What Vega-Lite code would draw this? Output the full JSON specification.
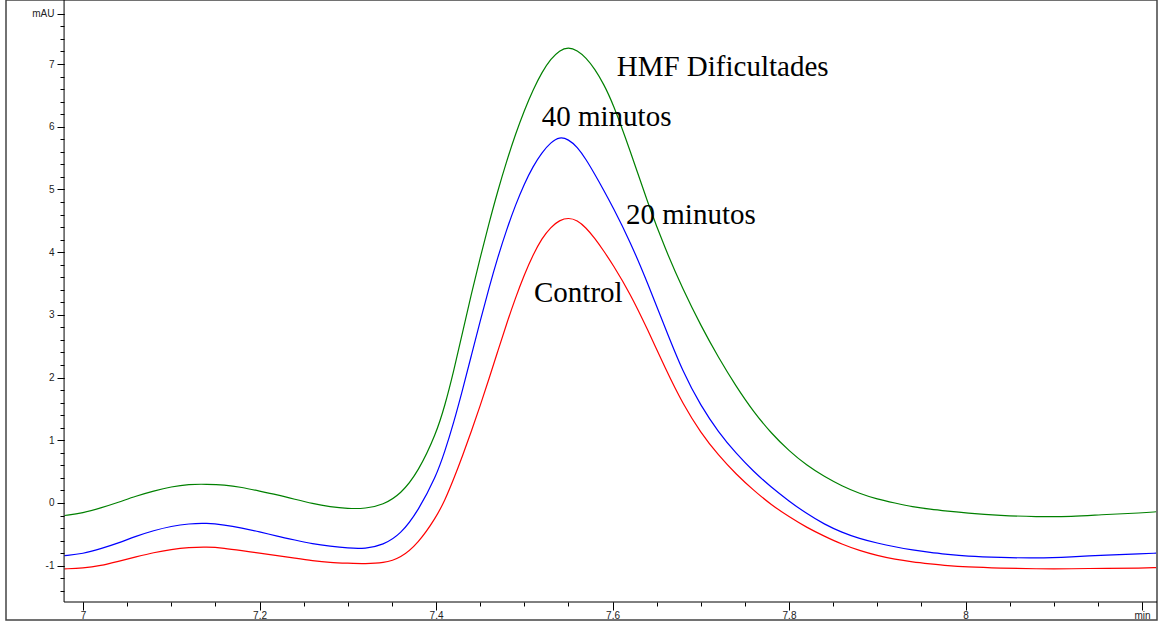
{
  "$schema": "https://vega.github.io/schema/vega-lite/v6.json",
  "width": 1151,
  "height": 620,
  "autosize": {"type": "none"},
  "padding": {"left": 6, "top": 0, "right": 3, "bottom": 2},
  "background": "white",
  "config": {
    "view": {"stroke": "#444", "strokeWidth": 1.5},
    "axis": {"labelFont": "Liberation Sans", "labelFontSize": 10, "labelColor": "#222", "tickColor": "#000", "tickWidth": 1, "domain": false, "grid": false, "labelOverlap": false, "labelFlush": false, "title": null}
  },
  "datasets": {
    "trazas": [
      {"t": 6.979, "hmf": -0.20, "m40": -0.84, "control": -1.05},
      {"t": 7.00, "hmf": -0.16, "m40": -0.81, "control": -1.04},
      {"t": 7.02, "hmf": -0.08, "m40": -0.73, "control": -1.00},
      {"t": 7.04, "hmf": 0.01, "m40": -0.64, "control": -0.93},
      {"t": 7.06, "hmf": 0.11, "m40": -0.53, "control": -0.86},
      {"t": 7.08, "hmf": 0.19, "m40": -0.44, "control": -0.79},
      {"t": 7.10, "hmf": 0.26, "m40": -0.37, "control": -0.74},
      {"t": 7.12, "hmf": 0.30, "m40": -0.33, "control": -0.71},
      {"t": 7.14, "hmf": 0.30, "m40": -0.32, "control": -0.70},
      {"t": 7.16, "hmf": 0.29, "m40": -0.35, "control": -0.72},
      {"t": 7.18, "hmf": 0.25, "m40": -0.40, "control": -0.76},
      {"t": 7.20, "hmf": 0.19, "m40": -0.46, "control": -0.80},
      {"t": 7.22, "hmf": 0.13, "m40": -0.53, "control": -0.84},
      {"t": 7.24, "hmf": 0.06, "m40": -0.59, "control": -0.88},
      {"t": 7.26, "hmf": -0.01, "m40": -0.65, "control": -0.92},
      {"t": 7.28, "hmf": -0.06, "m40": -0.69, "control": -0.95},
      {"t": 7.30, "hmf": -0.09, "m40": -0.72, "control": -0.96},
      {"t": 7.32, "hmf": -0.09, "m40": -0.73, "control": -0.97},
      {"t": 7.34, "hmf": -0.03, "m40": -0.67, "control": -0.96},
      {"t": 7.36, "hmf": 0.14, "m40": -0.50, "control": -0.88},
      {"t": 7.38, "hmf": 0.50, "m40": -0.12, "control": -0.64},
      {"t": 7.40, "hmf": 1.10, "m40": 0.42, "control": -0.23},
      {"t": 7.41, "hmf": 1.55, "m40": 0.82, "control": 0.04},
      {"t": 7.42, "hmf": 2.10, "m40": 1.28, "control": 0.38},
      {"t": 7.43, "hmf": 2.72, "m40": 1.80, "control": 0.75},
      {"t": 7.44, "hmf": 3.33, "m40": 2.35, "control": 1.14},
      {"t": 7.45, "hmf": 3.91, "m40": 2.90, "control": 1.55},
      {"t": 7.46, "hmf": 4.46, "m40": 3.43, "control": 1.98},
      {"t": 7.47, "hmf": 4.98, "m40": 3.92, "control": 2.42},
      {"t": 7.48, "hmf": 5.45, "m40": 4.36, "control": 2.86},
      {"t": 7.49, "hmf": 5.88, "m40": 4.75, "control": 3.27},
      {"t": 7.50, "hmf": 6.26, "m40": 5.09, "control": 3.64},
      {"t": 7.51, "hmf": 6.59, "m40": 5.37, "control": 3.96},
      {"t": 7.52, "hmf": 6.87, "m40": 5.59, "control": 4.22},
      {"t": 7.53, "hmf": 7.08, "m40": 5.75, "control": 4.40},
      {"t": 7.54, "hmf": 7.22, "m40": 5.84, "control": 4.51},
      {"t": 7.55, "hmf": 7.27, "m40": 5.80, "control": 4.55},
      {"t": 7.56, "hmf": 7.22, "m40": 5.68, "control": 4.51},
      {"t": 7.57, "hmf": 7.10, "m40": 5.48, "control": 4.39},
      {"t": 7.58, "hmf": 6.92, "m40": 5.24, "control": 4.22},
      {"t": 7.59, "hmf": 6.68, "m40": 4.99, "control": 4.02},
      {"t": 7.60, "hmf": 6.39, "m40": 4.73, "control": 3.81},
      {"t": 7.62, "hmf": 5.62, "m40": 4.17, "control": 3.34},
      {"t": 7.64, "hmf": 4.78, "m40": 3.50, "control": 2.76},
      {"t": 7.66, "hmf": 4.04, "m40": 2.78, "control": 2.14},
      {"t": 7.68, "hmf": 3.40, "m40": 2.08, "control": 1.57},
      {"t": 7.70, "hmf": 2.83, "m40": 1.55, "control": 1.12},
      {"t": 7.72, "hmf": 2.32, "m40": 1.13, "control": 0.76},
      {"t": 7.74, "hmf": 1.86, "m40": 0.79, "control": 0.46},
      {"t": 7.76, "hmf": 1.45, "m40": 0.50, "control": 0.20},
      {"t": 7.78, "hmf": 1.11, "m40": 0.25, "control": -0.03},
      {"t": 7.80, "hmf": 0.83, "m40": 0.03, "control": -0.22},
      {"t": 7.82, "hmf": 0.60, "m40": -0.17, "control": -0.39},
      {"t": 7.84, "hmf": 0.42, "m40": -0.34, "control": -0.53},
      {"t": 7.86, "hmf": 0.27, "m40": -0.47, "control": -0.66},
      {"t": 7.88, "hmf": 0.15, "m40": -0.57, "control": -0.76},
      {"t": 7.90, "hmf": 0.06, "m40": -0.64, "control": -0.84},
      {"t": 7.92, "hmf": 0.00, "m40": -0.70, "control": -0.90},
      {"t": 7.94, "hmf": -0.06, "m40": -0.75, "control": -0.94},
      {"t": 7.96, "hmf": -0.10, "m40": -0.79, "control": -0.97},
      {"t": 7.98, "hmf": -0.13, "m40": -0.82, "control": -1.00},
      {"t": 8.00, "hmf": -0.16, "m40": -0.85, "control": -1.02},
      {"t": 8.04, "hmf": -0.20, "m40": -0.87, "control": -1.04},
      {"t": 8.08, "hmf": -0.22, "m40": -0.88, "control": -1.05},
      {"t": 8.12, "hmf": -0.22, "m40": -0.86, "control": -1.05},
      {"t": 8.16, "hmf": -0.18, "m40": -0.83, "control": -1.04},
      {"t": 8.20, "hmf": -0.16, "m40": -0.81, "control": -1.04},
      {"t": 8.216, "hmf": -0.14, "m40": -0.80, "control": -1.03}
    ],
    "etiquetas": [
      {"texto": "HMF Dificultades", "t": 7.6048, "v": 6.81},
      {"texto": "40 minutos", "t": 7.5198, "v": 6.01},
      {"texto": "20 minutos", "t": 7.6153, "v": 4.445},
      {"texto": "Control", "t": 7.511, "v": 3.21}
    ],
    "ejes": [{"t0": 6.9785, "t1": 8.217, "v0": -1.579, "v1": 8.021}]
  },
  "layer": [
    {
      "data": {"name": "trazas"},
      "transform": [{"fold": ["hmf", "m40", "control"], "as": ["serie", "mAU"]}],
      "mark": {"type": "line", "strokeWidth": 1.2, "interpolate": "basis"},
      "encoding": {
        "x": {"field": "t", "type": "quantitative", "scale": {"domain": [6.9127, 8.217], "nice": false, "zero": false},
          "axis": {"orient": "bottom", "offset": -18, "values": [7, 7.2, 7.4, 7.6, 7.8, 8, 8.2], "tickSize": 8, "labelPadding": 0,
            "labelExpr": "datum.value > 8.1 ? 'min' : format(datum.value, '~g')"}},
        "y": {"field": "mAU", "type": "quantitative", "scale": {"domain": [-1.866, 8.021], "nice": false, "zero": false},
          "axis": {"orient": "left", "offset": -58, "values": [-1, 0, 1, 2, 3, 4, 5, 6, 7, 7.8], "tickSize": 7, "labelPadding": 3,
            "labelExpr": "datum.value > 7.5 ? 'mAU' : (datum.value < 0 ? '-' + format(-datum.value, 'd') : format(datum.value, 'd'))"}},
        "color": {"field": "serie", "type": "nominal", "scale": {"domain": ["hmf", "m40", "control"], "range": ["#008000", "#0000ff", "#ff0000"]}, "legend": null}
      }
    },
    {
      "data": {"name": "ejes"},
      "mark": {"type": "rule", "color": "#000", "strokeWidth": 1},
      "encoding": {
        "x": {"field": "t0", "type": "quantitative", "scale": {"domain": [6.9127, 8.217], "nice": false, "zero": false},
          "axis": {"orient": "bottom", "offset": -18, "values": [7, 7.05, 7.1, 7.15, 7.2, 7.25, 7.3, 7.35, 7.4, 7.45, 7.5, 7.55, 7.6, 7.65, 7.7, 7.75, 7.8, 7.85, 7.9, 7.95, 8, 8.05, 8.1, 8.15, 8.2], "tickSize": 4, "labels": false}},
        "y": {"field": "v0", "type": "quantitative", "scale": {"domain": [-1.866, 8.021], "nice": false, "zero": false},
          "axis": {"orient": "left", "offset": -58, "values": [-1.4, -1.2, -1, -0.8, -0.6, -0.4, -0.2, 0, 0.2, 0.4, 0.6, 0.8, 1, 1.2, 1.4, 1.6, 1.8, 2, 2.2, 2.4, 2.6, 2.8, 3, 3.2, 3.4, 3.6, 3.8, 4, 4.2, 4.4, 4.6, 4.8, 5, 5.2, 5.4, 5.6, 5.8, 6, 6.2, 6.4, 6.6, 6.8, 7, 7.2, 7.4, 7.6, 7.8], "tickSize": 4, "labels": false}},
        "y2": {"field": "v1"}
      }
    },
    {
      "data": {"name": "ejes"},
      "mark": {"type": "rule", "color": "#000", "strokeWidth": 1},
      "encoding": {
        "x": {"field": "t0", "type": "quantitative", "scale": {"domain": [6.9127, 8.217], "nice": false, "zero": false}, "axis": null},
        "x2": {"field": "t1"},
        "y": {"field": "v0", "type": "quantitative", "scale": {"domain": [-1.866, 8.021], "nice": false, "zero": false}, "axis": null}
      }
    },
    {
      "data": {"name": "etiquetas"},
      "mark": {"type": "text", "align": "left", "baseline": "alphabetic", "font": "Liberation Serif", "fontSize": 29, "color": "#000"},
      "encoding": {
        "x": {"field": "t", "type": "quantitative", "scale": {"domain": [6.9127, 8.217], "nice": false, "zero": false}, "axis": null},
        "y": {"field": "v", "type": "quantitative", "scale": {"domain": [-1.866, 8.021], "nice": false, "zero": false}, "axis": null},
        "text": {"field": "texto"}
      }
    }
  ],
  "resolve": {"axis": {"x": "independent", "y": "independent"}}
}
